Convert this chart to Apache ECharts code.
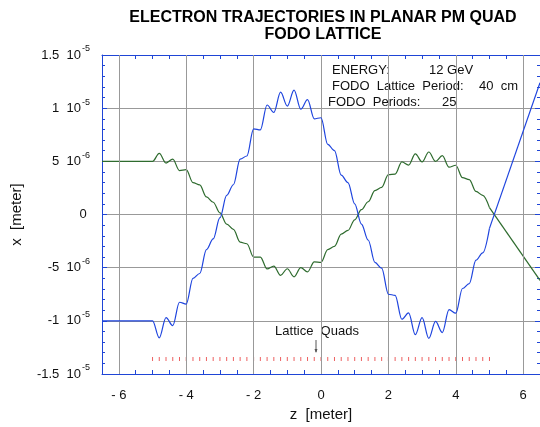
<!DOCTYPE html>
<html>
<head>
<meta charset="utf-8">
<script src="https://cdn.jsdelivr.net/npm/echarts@6/dist/echarts.min.js"></script>
<style>html,body{margin:0;padding:0;background:#fff;}#c{width:540px;height:427px;}</style>
</head>
<body>
<div id="c"></div>
<script>
// z positions (meter) of sampled trajectory points inside the lattice region
const zPts = [-6.5,-5.0,-4.8,-4.6,-4.4,-4.2,-4.0,-3.8,-3.6,-3.4,-3.2,-3.0,-2.8,-2.6,-2.4,-2.2,-2.0,-1.8,-1.6,-1.4,-1.2,-1.0,-0.8,-0.6,-0.4,-0.2,0.0,0.2,0.4,0.6,0.8,1.0,1.2,1.4,1.6,1.8,2.0,2.2,2.4,2.6,2.8,3.0,3.2,3.4,3.6,3.8,4.0,4.2,4.4,4.6,4.8,5.0];
// trajectory offsets x, in units of 1e-6 m
const blueX = [-10,-10,-11.6,-9.7,-10.45,-8.25,-8.42,-6.0,-5.55,-3.3,-2.3,-0.3,1.8,2.8,5.2,5.5,8.05,7.95,10.3,9.6,11.5,10.2,11.7,9.9,10.8,9.0,9.1,6.6,6.0,3.7,3.0,1.0,-0.9,-2.4,-4.5,-5.05,-7.5,-7.6,-9.85,-9.25,-11.3,-9.7,-11.65,-10.06,-11.1,-8.95,-9.28,-6.96,-6.5,-4.3,-3.6,-1.3];
const greenX = [5,5,5.75,4.84,5.21,4.13,4.22,3.0,2.78,1.65,1.15,0.15,-0.9,-1.4,-2.6,-2.75,-4.0,-4.0,-5.12,-4.85,-5.72,-5.1,-5.86,-5.0,-5.4,-4.45,-4.5,-3.3,-3.0,-1.85,-1.5,-0.5,0.45,1.2,2.25,2.55,3.75,3.8,4.95,4.65,5.7,4.95,5.88,5.0,5.53,4.45,4.63,3.46,3.28,2.17,1.8,0.65];
// free drift after the lattice (straight lines)
const tailZ = [5.0, 6.5];
const blueTailX = [-1.3, 12.4];
const greenTailX = [0.65, -6.2];
// lattice quadrupole positions (meter)
const quadZ = [-5.0,-4.8,-4.6,-4.4,-4.2,-4.0,-3.8,-3.6,-3.4,-3.2,-3.0,-2.8,-2.6,-2.4,-2.2,-2.0,-1.8,-1.6,-1.4,-1.2,-1.0,-0.8,-0.6,-0.4,-0.2,0.0,0.2,0.4,0.6,0.8,1.0,1.2,1.4,1.6,1.8,2.0,2.2,2.4,2.6,2.8,3.0,3.2,3.4,3.6,3.8,4.0,4.2,4.4,4.6,4.8,5.0];
const quadLevel = -13.6;
// axis ticks
const xTickValues = [-6,-4,-2,0,2,4,6];
const xTickLabels = ['- 6','- 4','- 2','0','2','4','6'];
const yTickValues = [-15,-10,-5,0,5,10,15];
const yTickMant = ['-1.5  10','-1  10','-5  10','0','5  10','1  10','1.5  10'];
const yTickExp = ['-5','-5','-6','','-6','-5','-5'];

const FONT = '"Liberation Sans", Arial, sans-serif';
const AX = '#1f45d6';
const BLUE = '#1e44de', GREEN = '#2e6b2e';

const chart = echarts.init(document.getElementById('c'), null, {renderer:'canvas'});
const pairs = (zs, xs) => zs.map((z,i)=>[z, xs[i]]);

const xCommon = {
  type:'value', min:-6.5, max:6.5, interval:0.5,
  axisLine:{show:true, onZero:false, lineStyle:{color:AX, width:1}},
  axisTick:{show:true, inside:true, length:4, lineStyle:{color:AX}},
  splitLine:{show:false}
};
const yCommon = {
  type:'value', min:-15, max:15, interval:5,
  axisLine:{show:true, onZero:false, lineStyle:{color:AX, width:1}},
  axisTick:{show:true, inside:true, length:5, lineStyle:{color:AX}},
  minorTick:{show:true, splitNumber:5, length:3, lineStyle:{color:AX}},
};
const lineSeries = (data, color, smooth, z) => ({
  type:'line', xAxisIndex:0, yAxisIndex:0, showSymbol:false, symbol:'none', z:z,
  smooth:smooth, smoothMonotone:'x', lineStyle:{color:color, width:1.2}, data:data
});

chart.setOption({
  animation:false,
  backgroundColor:'#fff',
  grid:{left:102, top:55, width:439, height:321, containLabel:false},
  xAxis:[
    Object.assign({}, xCommon, {
      position:'bottom',
      name:'z  [meter]', nameLocation:'middle', nameGap:33,
      nameTextStyle:{fontFamily:FONT, fontSize:15, color:'#111'},
      axisLabel:{show:true, margin:15, fontFamily:FONT, fontSize:13, color:'#111',
        showMinLabel:false, showMaxLabel:false,
        formatter:(v)=>{ const i = xTickValues.indexOf(Math.round(v*100)/100); return i>=0 ? xTickLabels[i] : ''; }}
    }),
    Object.assign({}, xCommon, {position:'top', axisLabel:{show:false}})
  ],
  yAxis:[
    Object.assign({}, yCommon, {
      position:'left',
      name:'x  [meter]', nameLocation:'middle', nameGap:78, nameRotate:90,
      nameTextStyle:{fontFamily:FONT, fontSize:15, color:'#111'},
      splitLine:{show:true, lineStyle:{color:'#999', width:1}},
      axisLabel:{show:true, margin:12, fontFamily:FONT, color:'#111',
        formatter:(v)=>{ const i = yTickValues.indexOf(v); if(i<0) return ''; return yTickExp[i] ? '{m|'+yTickMant[i]+'}{e|'+yTickExp[i]+'}' : '{m|'+yTickMant[i]+'} '; },
        rich:{ m:{fontFamily:FONT, fontSize:13, color:'#111'}, e:{fontFamily:FONT, fontSize:9, color:'#111', verticalAlign:'top', padding:[0,0,12,1]} }
      }
    }),
    Object.assign({}, yCommon, {position:'right', axisLabel:{show:false}, splitLine:{show:false}})
  ],
  graphic:[
    {type:'text', style:{text:'ELECTRON TRAJECTORIES IN PLANAR PM QUAD', x:323, y:10, font:'bold 16px '+FONT, fill:'#000', textAlign:'center'}},
    {type:'text', style:{text:'FODO LATTICE', x:323, y:27, font:'bold 16px '+FONT, fill:'#000', textAlign:'center'}},
    {type:'text', style:{text:'ENERGY:', x:332, y:64, font:'13px '+FONT, fill:'#111'}},
    {type:'text', style:{text:'12 GeV', x:429, y:64, font:'13px '+FONT, fill:'#111'}},
    {type:'text', style:{text:'FODO  Lattice  Period:', x:332, y:80, font:'13px '+FONT, fill:'#111'}},
    {type:'text', style:{text:'40  cm', x:479, y:80, font:'13px '+FONT, fill:'#111'}},
    {type:'text', style:{text:'FODO  Periods:', x:328, y:96, font:'13px '+FONT, fill:'#111'}},
    {type:'text', style:{text:'25', x:442, y:96, font:'13px '+FONT, fill:'#111'}},
    {type:'text', style:{text:'Lattice  Quads', x:317, y:325, font:'13px '+FONT, fill:'#111', textAlign:'center'}},
    {type:'line', shape:{x1:316, y1:340, x2:316, y2:352}, style:{stroke:'#555', lineWidth:1}},
    {type:'polygon', shape:{points:[[314.5,349],[317.5,349],[316,353]]}, style:{fill:'#555'}}
  ],
  series:[
    {type:'scatter', xAxisIndex:0, yAxisIndex:0, symbol:'rect', symbolSize:[1,4],
     itemStyle:{color:'#e8393a'}, z:2, silent:true,
     data: quadZ.map(z=>[z, quadLevel]),
     markLine:{silent:true, symbol:'none', label:{show:false}, animation:false,
       lineStyle:{color:'#999', width:1, type:'solid'},
       data: xTickValues.map(v=>({xAxis:v}))}
    },
    lineSeries(pairs(zPts, greenX), GREEN, 0.35, 4),
    lineSeries(pairs(tailZ, greenTailX), GREEN, false, 4),
    lineSeries(pairs(zPts, blueX), BLUE, 0.35, 5),
    lineSeries(pairs(tailZ, blueTailX), BLUE, false, 5)
  ]
});
</script>
</body>
</html>
